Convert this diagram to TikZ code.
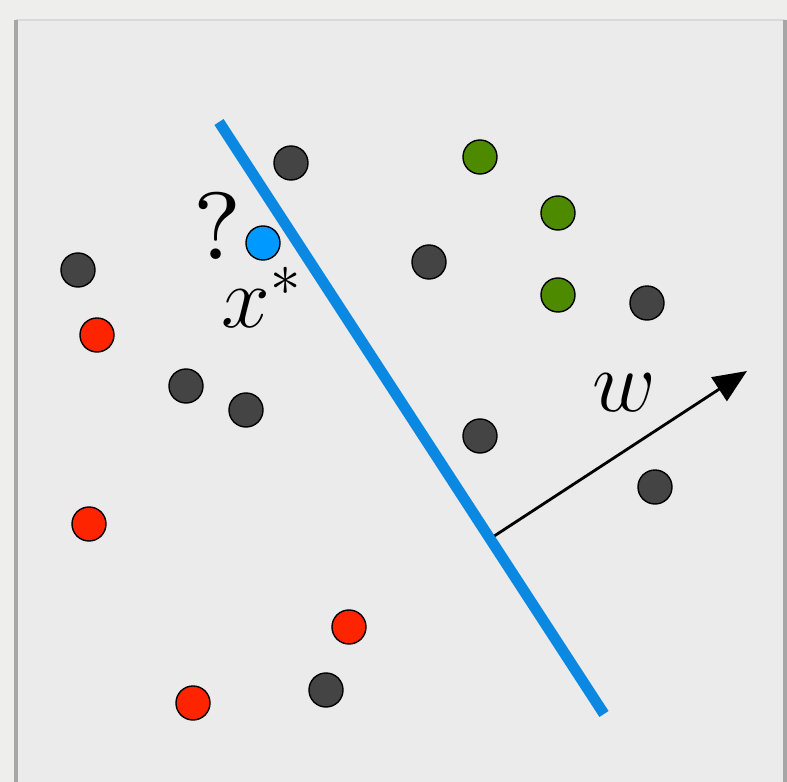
\documentclass[tikz,border=0pt]{standalone}
\usepackage{amsmath}
\usepackage{tikz}
\usetikzlibrary{calc,positioning,arrows.meta}
\definecolor{pageGrey}{HTML}{EEEEEC}
\definecolor{panelGrey}{HTML}{EBEBEB}
\definecolor{dotDark}{HTML}{444444}
\definecolor{dotGreen}{HTML}{4E8A00}
\definecolor{dotRed}{HTML}{FF2400}
\definecolor{dotBlue}{HTML}{0099FF}
\definecolor{sepBlue}{HTML}{0A88E2}

\begin{document}
\begin{tikzpicture}[
  x=0.01cm, y=-0.01cm,
  pt/.style={circle, draw=black, line width=0.4pt, minimum size=0.34cm, inner sep=0pt},
  dk/.style={pt, fill=dotDark},
  gr/.style={pt, fill=dotGreen},
  rd/.style={pt, fill=dotRed},
  qy/.style={pt, fill=dotBlue},
  sep/.style={draw=sepBlue, line width=3.1pt},
  wvec/.style={-{Triangle[length=9.5pt, width=8pt]}, draw=black, line width=0.8pt},
  lbl/.style={font=\fontsize{25}{30}\selectfont, inner sep=0pt}
]
% ---- page and panel
\useasboundingbox (0,0) rectangle (787,782);
\fill[pageGrey] (0,0) rectangle (787,782);
\fill[panelGrey] (16,20) rectangle (785,782);
\draw[black!15, line width=0.6pt] (16,20) -- (785,20);
\draw[black!35, line width=1pt] (16,20) -- (16,782);
\draw[black!35, line width=1pt] (785,20) -- (785,782);

% ---- separating line and normal vector
\coordinate (top) at (219,122);
\coordinate (bot) at (604,714);
\coordinate (foot) at ($(top)!0.704!(bot)$);
\coordinate (tip) at (747,371);
\draw[wvec] (foot) -- (tip);
\draw[sep] (top) -- (bot);
\node[lbl] (wl) at (624,393) {$w$};

% ---- dark points
\node[dk] (d1) at (291,163) {};
\node[dk] (d2) at (78,270) {};
\node[dk] (d3) at (429,262) {};
\node[dk] (d4) at (647,303) {};
\node[dk] (d5) at (186,386) {};
\node[dk] (d6) at (246,410) {};
\node[dk] (d7) at (480,436) {};
\node[dk] (d8) at (655,487) {};
\node[dk] (d9) at (326,690) {};

% ---- green points
\node[gr] (g1) at (480,157) {};
\node[gr] (g2) at (558,213) {};
\node[gr] (g3) at (558,295) {};

% ---- red points
\node[rd] (r1) at (97,335) {};
\node[rd] (r2) at (89,524) {};
\node[rd] (r3) at (349,627) {};
\node[rd] (r4) at (193,703) {};

% ---- query point
\node[qy] (xq) at (263,243) {};
\node[inner sep=0pt] (qm) at (218,226) {\scalebox{3.4}{\fontsize{8}{9}\selectfont ?}};
\node[lbl] (xs) at (262,297) {$x^*$};
\end{tikzpicture}
\end{document}
